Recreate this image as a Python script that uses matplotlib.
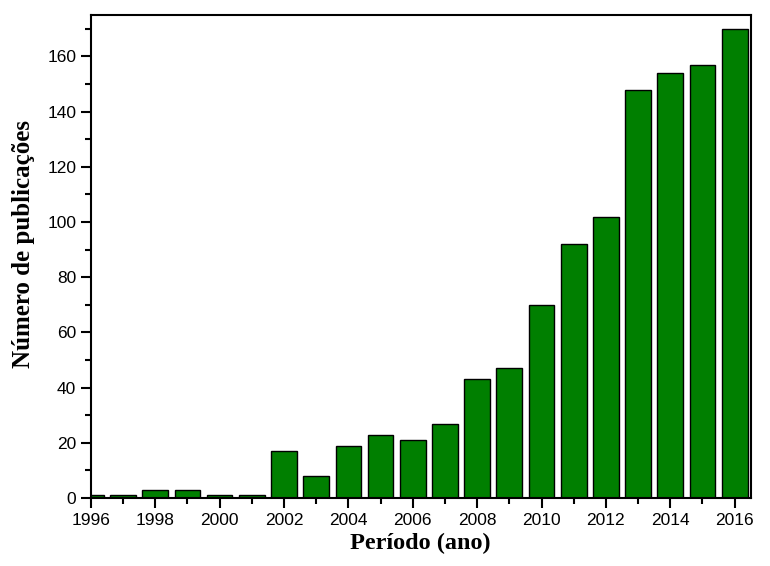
import matplotlib
matplotlib.use('Agg')
import matplotlib.pyplot as plt
from matplotlib.ticker import MultipleLocator

anos = [1996, 1997, 1998, 1999, 2000, 2001, 2002, 2003, 2004, 2005, 2006,
        2007, 2008, 2009, 2010, 2011, 2012, 2013, 2014, 2015, 2016]
publicacoes = [1, 1, 3, 3, 1, 1, 17, 8, 19, 23, 21,
               27, 43, 47, 70, 92, 102, 148, 154, 157, 170]

fig = plt.figure(figsize=(7.7, 5.66), dpi=100)
ax = fig.add_axes([0.118, 0.120, 0.857, 0.8535])

ax.bar(anos, publicacoes, width=0.8, color='#007f00', edgecolor='black', linewidth=1.0)

ax.set_xlim(1996, 2016.5)
ax.set_ylim(0, 175)
ax.xaxis.set_major_locator(MultipleLocator(2))
ax.xaxis.set_minor_locator(MultipleLocator(1))
ax.yaxis.set_major_locator(MultipleLocator(20))
ax.yaxis.set_minor_locator(MultipleLocator(10))
ax.tick_params(which='both', direction='out', top=False, right=False, width=1.5)
ax.tick_params(which='major', length=7, labelsize=12.5)
ax.tick_params(which='minor', length=4)
for lab in ax.get_xticklabels() + ax.get_yticklabels():
    lab.set_family('Liberation Sans')
for s in ax.spines.values():
    s.set_linewidth(1.5)

ax.set_xlabel('Período (ano)', family='Liberation Serif', fontweight='bold', fontsize=17.5, labelpad=4)
ax.set_ylabel('Número de publicações', family='Liberation Serif', fontweight='bold', fontsize=18)
ax.yaxis.set_label_coords(-0.084, 0.525)

fig.savefig('out.png', dpi=100)
